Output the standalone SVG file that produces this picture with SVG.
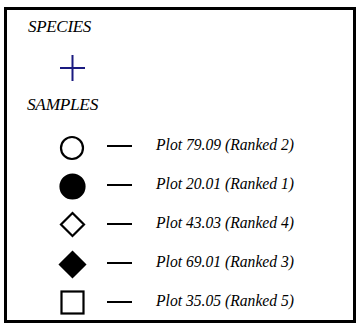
<svg xmlns="http://www.w3.org/2000/svg" width="358" height="325" viewBox="0 0 358 325">
<style>
.t{font-family:"Liberation Serif","Times New Roman",serif;font-style:italic;fill:#000}
.h{font-size:17px;letter-spacing:-0.3px}
.l{font-size:17.5px}
.sym{stroke:#000;stroke-width:2.2;fill:#fff}
.fill{fill:#000}
.dash{stroke:#000;stroke-width:2}
</style>
<rect x="5.5" y="8.5" width="349" height="313" fill="#fff" stroke="#000" stroke-width="3"/>
<g id="species-header"><text class="t h" x="28" y="32">SPECIES</text></g>
<g id="species-plus"><path d="M60,68H85M72.5,55V81" stroke="#1a1a80" stroke-width="2" fill="none"/></g>
<g id="samples-header"><text class="t h" x="27" y="110" textLength="71" lengthAdjust="spacingAndGlyphs">SAMPLES</text></g>
<g id="connectors">
<line class="dash" x1="107" y1="146" x2="132" y2="146"/>
<line class="dash" x1="107" y1="185" x2="132" y2="185"/>
<line class="dash" x1="107" y1="224" x2="132" y2="224"/>
<line class="dash" x1="107" y1="263" x2="132" y2="263"/>
<line class="dash" x1="107" y1="302" x2="132" y2="302"/>
</g>
<g id="sample-1"><circle class="sym" cx="72" cy="148" r="11"/><text class="t l" x="156" y="150" textLength="138" lengthAdjust="spacingAndGlyphs">Plot 79.09 (Ranked 2)</text></g>
<g id="sample-2"><circle class="sym fill" cx="72.5" cy="186.5" r="12"/><text class="t l" x="156" y="189" textLength="138" lengthAdjust="spacingAndGlyphs">Plot 20.01 (Ranked 1)</text></g>
<g id="sample-3"><path class="sym" d="M72.5,213L84,224.5L72.5,236L61,224.5Z"/><text class="t l" x="156" y="228" textLength="138" lengthAdjust="spacingAndGlyphs">Plot 43.03 (Ranked 4)</text></g>
<g id="sample-4"><path class="sym fill" d="M72.5,252L85,264.5L72.5,277L60,264.5Z"/><text class="t l" x="156" y="267" textLength="138" lengthAdjust="spacingAndGlyphs">Plot 69.01 (Ranked 3)</text></g>
<g id="sample-5"><rect class="sym" x="61.5" y="291.5" width="22" height="22"/><text class="t l" x="156" y="306" textLength="138" lengthAdjust="spacingAndGlyphs">Plot 35.05 (Ranked 5)</text></g>
</svg>
